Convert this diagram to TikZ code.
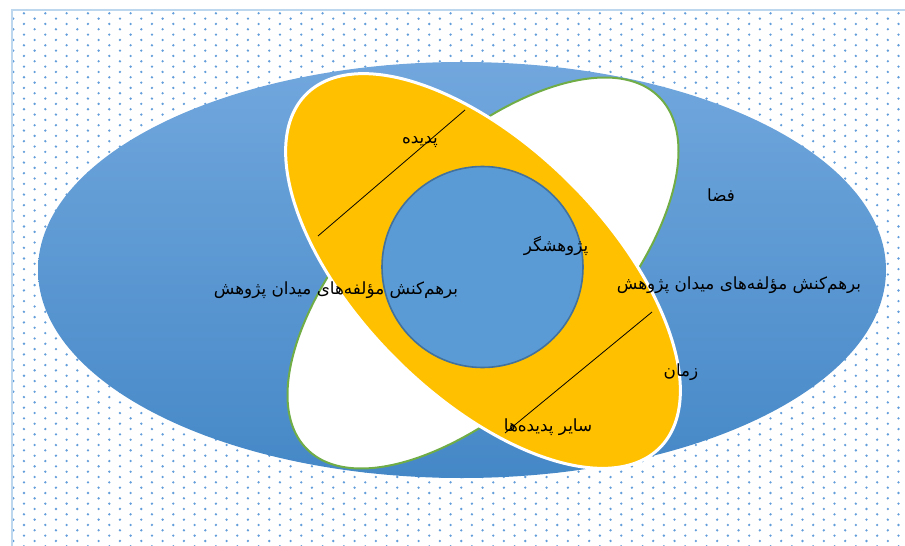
\documentclass[tikz,border=0pt]{standalone}
\usepackage{fontspec}
\newfontfamily\arabicfont[Script=Arabic]{DejaVu Sans}
\TeXXeTstate=1
\definecolor{dotc}{RGB}{100,158,218}
\definecolor{framec}{RGB}{189,215,238}
\definecolor{bluetop}{RGB}{113,167,221}
\definecolor{bluebot}{RGB}{69,136,199}
\definecolor{circfill}{RGB}{91,155,213}
\definecolor{circline}{RGB}{65,113,156}
\definecolor{yel}{RGB}{255,192,0}
\definecolor{grn}{RGB}{112,173,71}
\tikzset{
  lbl/.style={inner sep=0pt, text=black, font=\arabicfont\fontsize{16.8}{20}\selectfont},
  chord/.style={draw=black, line width=0.8pt}
}
\begin{document}
\begin{tikzpicture}[x=1pt,y=-1pt]
\useasboundingbox (0,0) rectangle (905,546);
% dotted background
\begin{scope}
\clip (12,10) rectangle (905,546);
\foreach \r in {0,...,100} {
  \pgfmathsetmacro\yy{13.3+5.33*\r}
  \pgfmathsetmacro\xo{13.3+(1-mod(\r,2))*10.67}
  \foreach \c in {0,...,42} {
    \fill[dotc] ({\xo+21.33*\c},\yy) circle (1.3pt);
  }
}
\end{scope}
\draw[framec, line width=1.5pt] (12,546) -- (12,10) -- (905,10);
% big blue ellipse
\shade[top color=bluetop, bottom color=bluebot] (462,270) ellipse [x radius=424pt, y radius=208pt];
% white ellipse (green outline)
\draw[grn, line width=2pt, fill=white, rotate around={45:(483,273)}] (483,273) ellipse [x radius=249pt, y radius=120pt];
% yellow ellipse (white outline)
\draw[white, line width=3pt, fill=yel, rotate around={-45:(483,271)}] (483,271) ellipse [x radius=250pt, y radius=124pt];
% circle
\draw[circline, line width=1.6pt, fill=circfill] (482.5,267) circle (100.5pt);
% chords
\coordinate (c1a) at (318,236);
\coordinate (c1b) at (465,110);
\coordinate (c2a) at (505,433);
\coordinate (c2b) at (652,312);
\draw[chord] (c1a) -- (c1b);
\draw[chord] (c2a) -- (c2b);
% labels
\node[lbl] (padideh) at (420,142) {\beginR پدیده\endR};
\node[lbl] (pajoheshgar) at (556,246) {\beginR پژوهشگر\endR};
\node[lbl] (barhamL) at (336,290) {\beginR برهم‌کنش مؤلفه‌های میدان پژوهش\endR};
\node[lbl] (barhamR) at (739,285) {\beginR برهم‌کنش مؤلفه‌های میدان پژوهش\endR};
\node[lbl] (faza) at (721,195) {\beginR فضا\endR};
\node[lbl] (zaman) at (681,372) {\beginR زمان\endR};
\node[lbl] (sayer) at (548,427) {\beginR سایر پدیده‌ها\endR};
\end{tikzpicture}
\end{document}
